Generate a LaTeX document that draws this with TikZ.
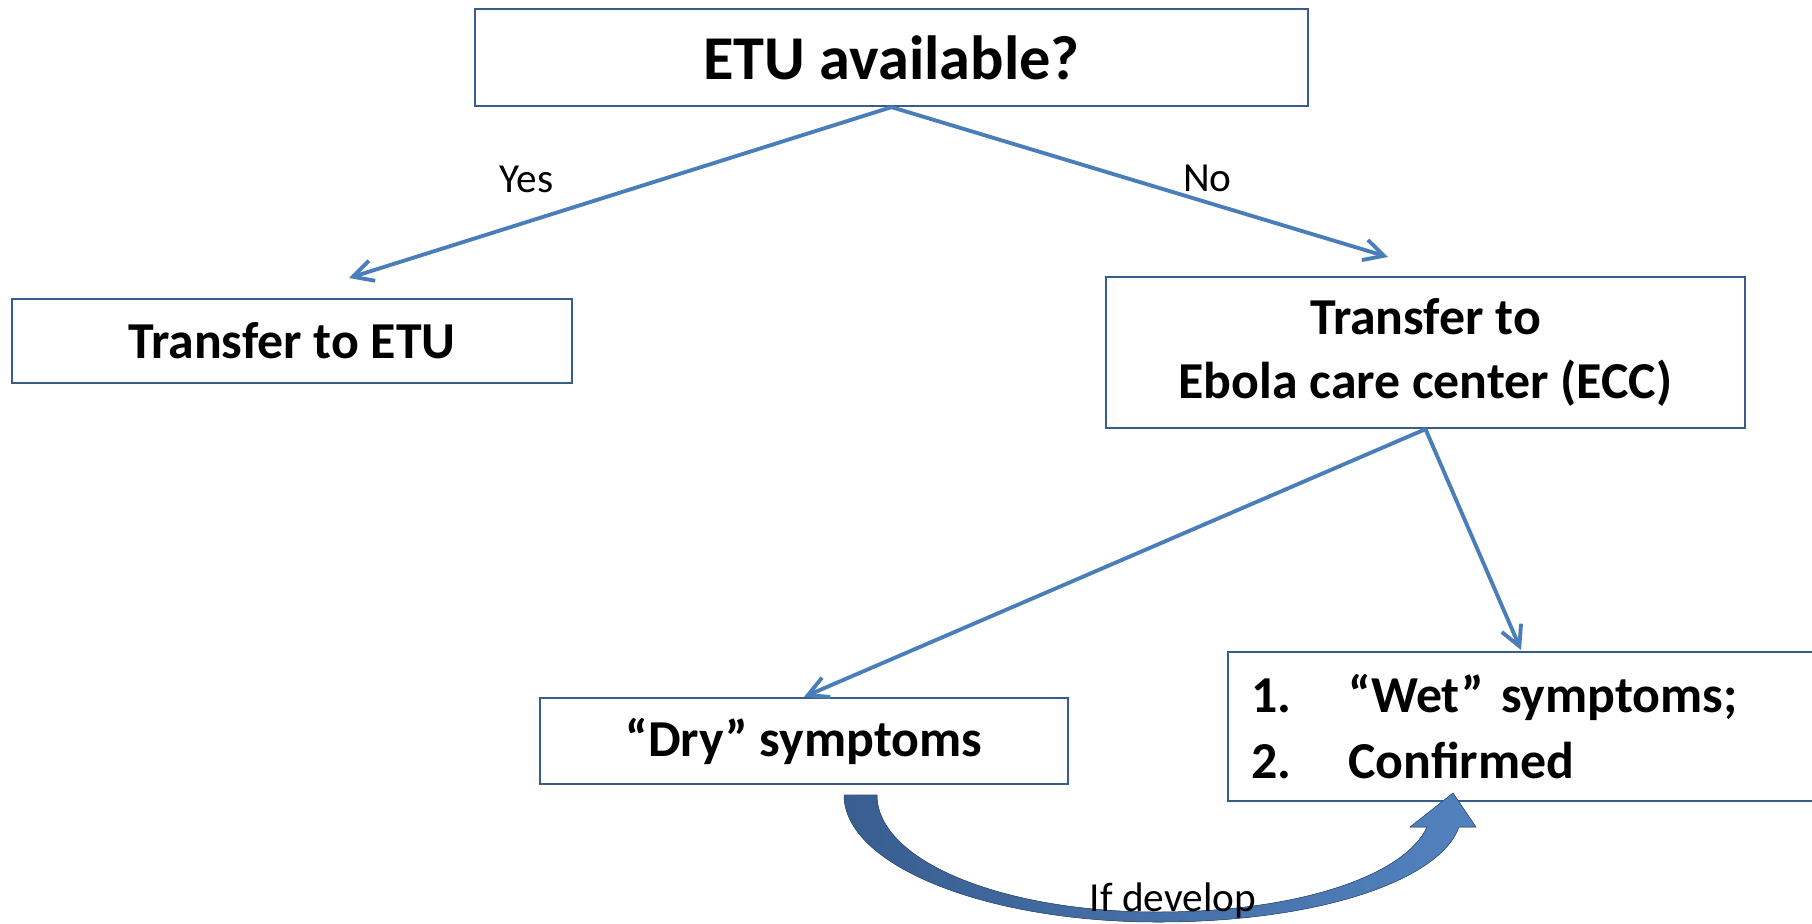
\documentclass[tikz,border=0pt]{standalone}
\usepackage{fontspec}
\setmainfont{Carlito}
\usepackage{xcolor}
\usetikzlibrary{arrows.meta, positioning}

\definecolor{boxblue}{HTML}{385D8A}
\definecolor{lineblue}{HTML}{4A7EBB}
\definecolor{curvedark}{HTML}{395E90}
\definecolor{curvelight}{HTML}{5282BF}

\begin{document}
\begin{tikzpicture}[x=0.02cm, y=-0.02cm, >={Straight Barb[length=0.4cm, width=0.42cm]},
  box/.style={draw=boxblue, line width=1.3pt, fill=white, inner sep=0pt, align=center,
    font=\fontsize{29.5}{36}\selectfont\bfseries},
  flow/.style={->, draw=lineblue, line width=2.2pt},
  lbl/.style={inner sep=0pt, font=\fontsize{23.5}{28}\selectfont}]
  \useasboundingbox (0,0) rectangle (1812,923);

  % boxes
  \node[box, minimum width=16.66cm, minimum height=1.94cm,
    font=\fontsize{35.5}{42}\selectfont\bfseries] (avail) at (891.5,57.5) {ETU available?};
  \node[box, minimum width=11.2cm, minimum height=1.68cm] (toetu) at (292,341) {Transfer to ETU};
  \node[box, minimum width=12.78cm, minimum height=3.02cm] (toecc) at (1425.5,352.5)
    {Transfer to\\Ebola care center (ECC)};
  \node[box, minimum width=10.56cm, minimum height=1.72cm] (dry) at (804,741) {“Dry” symptoms};
  \node[box, anchor=north west, align=left, text width=11.3cm, inner xsep=0.46cm,
    minimum height=2.98cm, font=\fontsize{29.5}{38}\selectfont\bfseries] (wet) at (1227,651)
    {\makebox[1.94cm][l]{1.}“Wet” symptoms;\\\makebox[1.94cm][l]{2.}Confirmed};

  % arrow ends
  \coordinate (yesend) at (349,278);
  \coordinate (noend) at (1388,257);
  \coordinate (wetin) at (1521,650);

  \draw[flow] (avail.south) -- node[lbl, pos=0.673, above=0.54cm] {Yes} (yesend);
  \draw[flow] (avail.south) -- node[lbl, pos=0.636, above=0.17cm] {No} (noend);
  \draw[flow] (toecc.south) -- (dry.north);
  \draw[flow] (toecc.south) -- (wetin);

  % curved block arrow
  \filldraw[left color=curvedark, right color=curvelight, draw=curvedark!85!black, line width=0.3pt]
    (844,795) .. controls (844,865) and (985,922) .. (1158,922)
    .. controls (1320,922) and (1440,880) .. (1459,827)
    -- (1476,827) -- (1453,793) -- (1410,827) -- (1427,827)
    .. controls (1405,875) and (1300,912) .. (1158,912)
    .. controls (1000,912) and (877,860) .. (877,795) -- cycle;
  \node[lbl, anchor=base] (dev) at (1173,911) {If develop};
\end{tikzpicture}
\end{document}
